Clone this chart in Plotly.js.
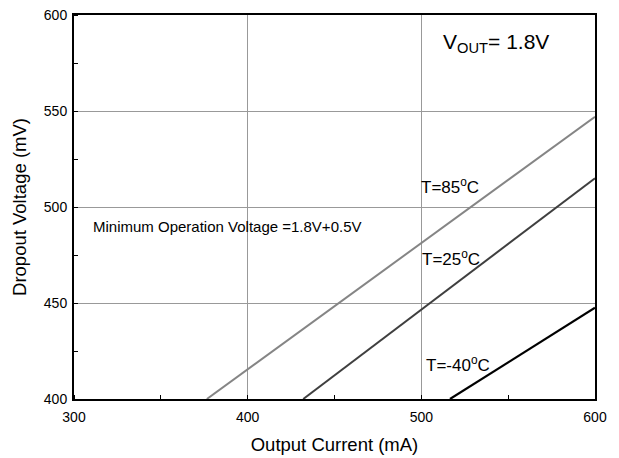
<!DOCTYPE html>
<html>
<head>
<meta charset="utf-8">
<script src="https://cdn.plot.ly/plotly-3.0.1.min.js"></script>
<style>html,body{margin:0;padding:0;background:#fff;}</style>
</head>
<body>
<div id="chart" style="width:619px;height:458px;"></div>
<script>
// Data
const current85 = [376.5, 600];
const dropout85 = [400, 547];
const current25 = [432, 600];
const dropout25 = [400, 515];
const currentM40 = [516.5, 600];
const dropoutM40 = [400, 447.5];
const xTicks = [300, 400, 500, 600];
const yTicks = [400, 450, 500, 550, 600];

const traces = [
  {x: current85, y: dropout85, mode: 'lines', line: {color: '#858585', width: 2}, name: 'T=85°C'},
  {x: current25, y: dropout25, mode: 'lines', line: {color: '#3f3f3f', width: 2}, name: 'T=25°C'},
  {x: currentM40, y: dropoutM40, mode: 'lines', line: {color: '#000000', width: 2.2}, name: 'T=-40°C'}
];

const font = {family: 'Liberation Sans, Arial, sans-serif', color: '#000'};

const layout = {
  width: 619, height: 458,
  margin: {l: 74, r: 24, t: 15, b: 59},
  paper_bgcolor: '#fff', plot_bgcolor: '#fff',
  showlegend: false,
  font: Object.assign({size: 14}, font),
  xaxis: {
    range: [300, 600], tickvals: xTicks, ticktext: xTicks.map(String),
    showgrid: true, gridcolor: '#999', gridwidth: 1,
    showline: true, linecolor: '#000', linewidth: 2, mirror: true,
    ticks: '', zeroline: false, ticklabelstandoff: 4,
    minor: {ticks: 'inside', dtick: 50, tick0: 300, ticklen: 4, tickcolor: '#000', showgrid: false},
    tickfont: Object.assign({size: 14}, font),
    title: {text: 'Output Current (mA)', font: Object.assign({size: 18.5}, font), standoff: 14}
  },
  yaxis: {
    range: [400, 600], tickvals: yTicks, ticktext: yTicks.map(String),
    showgrid: true, gridcolor: '#999', gridwidth: 1,
    showline: true, linecolor: '#000', linewidth: 2, mirror: true,
    ticks: '', zeroline: false, ticklabelstandoff: 2,
    minor: {ticks: 'inside', dtick: 25, tick0: 400, ticklen: 4, tickcolor: '#000', showgrid: false},
    tickfont: Object.assign({size: 14}, font),
    title: {text: 'Dropout Voltage (mV)', font: Object.assign({size: 18.5}, font), standoff: 12}
  },
  annotations: [
    {x: 543, y: 585.5, xref: 'x', yref: 'y', text: 'V<sub>OUT</sub>= 1.8V', showarrow: false,
     font: Object.assign({size: 21}, font)},
    {x: 516.5, y: 511, xref: 'x', yref: 'y', text: 'T=85<sup>o</sup>C', showarrow: false,
     font: Object.assign({size: 17}, font)},
    {x: 517, y: 473.5, xref: 'x', yref: 'y', text: 'T=25<sup>o</sup>C', showarrow: false,
     font: Object.assign({size: 17}, font)},
    {x: 521, y: 418, xref: 'x', yref: 'y', text: 'T=-40<sup>o</sup>C', showarrow: false,
     font: Object.assign({size: 17}, font)},
    {x: 309.5, y: 489.7, xref: 'x', yref: 'y', xanchor: 'left', text: 'Minimum Operation Voltage =1.8V+0.5V', showarrow: false,
     font: Object.assign({size: 15}, font)}
  ]
};

Plotly.newPlot('chart', traces, layout, {displayModeBar: false, staticPlot: true});
</script>
</body>
</html>
